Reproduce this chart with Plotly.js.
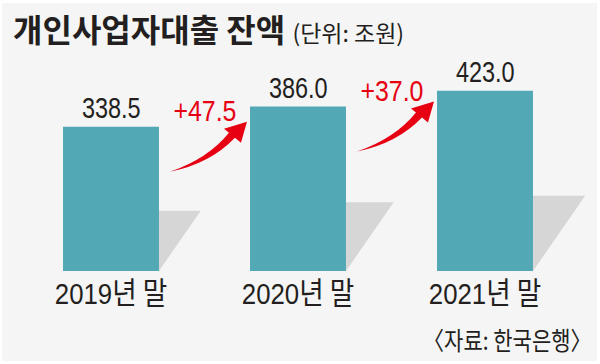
<!DOCTYPE html>
<html>
<head>
<meta charset="utf-8">
<script src="https://cdn.plot.ly/plotly-3.0.1.min.js"></script>
<style>
  html, body { margin: 0; padding: 0; background: #ffffff; }
  #chart { width: 600px; height: 364px; }
</style>
</head>
<body>
<div id="chart"></div>
<script>
// ---- data ----
const categories = ['2019년 말', '2020년 말', '2021년 말'];
const values = [338.5, 386.0, 423.0];
const chartTitle = '개인사업자대출 잔액';
const unitText = '(단위: 조원)';
const sourceText = '〈자료: 한국은행〉';

// ---- geometry helpers (style only) ----
const PLOT_H = 271;
const PX_X = 187;                 // px per category step
const PX_Y = 0.426;               // px per value unit
const Y_MAX = PLOT_H / PX_Y;
const X_MIN = -111 / PX_X;
const X_MAX = (600 - 111) / PX_X;
const BAR_W = 0.513;
const dx = p => p / PX_X;
const dy = p => p / PX_Y;

const NUM_FONT = "Liberation Sans, Arial, sans-serif";
const KR_FONT = "Noto Sans CJK KR, sans-serif";
const INK = '#231f20';
const RED = '#e60012';

const shapes = [];
// background panel
shapes.push({
  type: 'rect', xref: 'paper', yref: 'paper',
  x0: 2 / 600, x1: 597 / 600, y0: (PLOT_H - 361) / PLOT_H, y1: (PLOT_H - 3) / PLOT_H,
  fillcolor: '#f5f5f5', line: { width: 0 }, layer: 'below'
});
// bar shadows
values.forEach((v, i) => {
  const e = i + BAR_W / 2;
  const h = v * 0.418;
  const w = v * 0.00066;
  shapes.push({
    type: 'path', xref: 'x', yref: 'y',
    path: `M${e},0 L${e},${h} L${e + w},${h} Z`,
    fillcolor: '#d6d6d6', line: { width: 0 }, layer: 'below'
  });
});
// growth arrows
for (let i = 0; i < values.length - 1; i++) {
  const tx = i + BAR_W / 2 + dx(11);
  const ty = values[i] - dy(45);
  const P = (ox, oy) => `${tx + dx(ox)},${ty - dy(oy)}`;
  const path = `M${P(0, 0)} Q${P(38, -13)} ${P(59, -39)} L${P(54, -43)} L${P(77, -50)} L${P(71, -29)} L${P(65, -34)} Q${P(40, -8)} ${P(0, 0)} Z`;
  shapes.push({
    type: 'path', xref: 'x', yref: 'y', path: path,
    fillcolor: RED, line: { width: 0 }, layer: 'above'
  });
}

const annotations = [];
const condenseList = [];   // [annotation index, scale, anchor]
// value labels
values.forEach((v, i) => {
  condenseList.push([annotations.length, 0.81, 'middle']);
  annotations.push({
    x: i, y: v, xref: 'x', yref: 'y', xanchor: 'center', yanchor: 'bottom',
    yshift: 1, showarrow: false, text: v.toFixed(1),
    font: { family: NUM_FONT, size: 29, color: INK }
  });
});
// change labels
for (let i = 0; i < values.length - 1; i++) {
  const d = values[i + 1] - values[i];
  condenseList.push([annotations.length, 0.83, 'middle']);
  annotations.push({
    x: i + 0.5, y: values[i], xref: 'x', yref: 'y', xanchor: 'center', yanchor: 'bottom',
    yshift: -2, showarrow: false, text: '+' + d.toFixed(1),
    font: { family: NUM_FONT, size: 30, color: RED }
  });
}
// title
annotations.push({
  xref: 'paper', yref: 'paper', x: 11 / 600, y: (PLOT_H - 28) / PLOT_H,
  xanchor: 'left', yanchor: 'middle', showarrow: false,
  text: `<b>${chartTitle}</b> <span style="font-size:23px">${unitText}</span>`,
  font: { family: KR_FONT, size: 32, color: INK }
});
// source
condenseList.push([annotations.length, 0.84, 'end']);
annotations.push({
  xref: 'paper', yref: 'paper', x: 594 / 600, y: (PLOT_H - 339) / PLOT_H,
  xanchor: 'right', yanchor: 'middle', showarrow: false,
  text: sourceText,
  font: { family: KR_FONT, size: 25, color: INK }
});

const tickText = categories.map(c => {
  const m = c.match(/^(\d+)(.*)$/);
  return `${m[1]}<span style="font-family:'Noto Sans CJK KR';font-size:31px">${m[2]}</span>`;
});

const trace = {
  type: 'bar', x: categories.map((c, i) => i), y: values,
  width: BAR_W, marker: { color: '#52a8b4', line: { width: 0 } },
  hoverinfo: 'skip'
};

const layout = {
  width: 600, height: 364,
  margin: { l: 0, r: 0, t: 0, b: 364 - PLOT_H, pad: 0 },
  paper_bgcolor: '#ffffff', plot_bgcolor: 'rgba(0,0,0,0)',
  showlegend: false,
  xaxis: {
    range: [X_MIN, X_MAX], tickvals: categories.map((c, i) => i), ticktext: tickText,
    showgrid: false, zeroline: false, showline: false, ticks: '',
    ticklabelstandoff: 2,
    tickfont: { family: NUM_FONT, size: 30, color: INK }, fixedrange: true
  },
  yaxis: { range: [0, Y_MAX], visible: false, fixedrange: true },
  shapes: shapes,
  annotations: annotations
};

function condense(el, s, anchor) {
  const bb = el.getBBox();
  const cx = anchor === 'end' ? bb.x + bb.width : bb.x + bb.width / 2;
  const prev = el.getAttribute('transform') || '';
  el.setAttribute('transform', `${prev} translate(${cx},0) scale(${s},1) translate(${-cx},0)`);
}

Plotly.newPlot('chart', [trace], layout, { displayModeBar: false, staticPlot: true }).then(gd => {
  const groups = gd.querySelectorAll('g.annotation');
  condenseList.forEach(([idx, s, anchor]) => {
    const g = gd.querySelector(`g.annotation[data-index="${idx}"]`) || groups[idx];
    if (!g) return;
    const t = g.querySelector('text.annotation-text');
    if (t) condense(t, s, anchor);
  });
  gd.querySelectorAll('.xtick text').forEach(t => condense(t, 0.86, 'middle'));
});
</script>
</body>
</html>
